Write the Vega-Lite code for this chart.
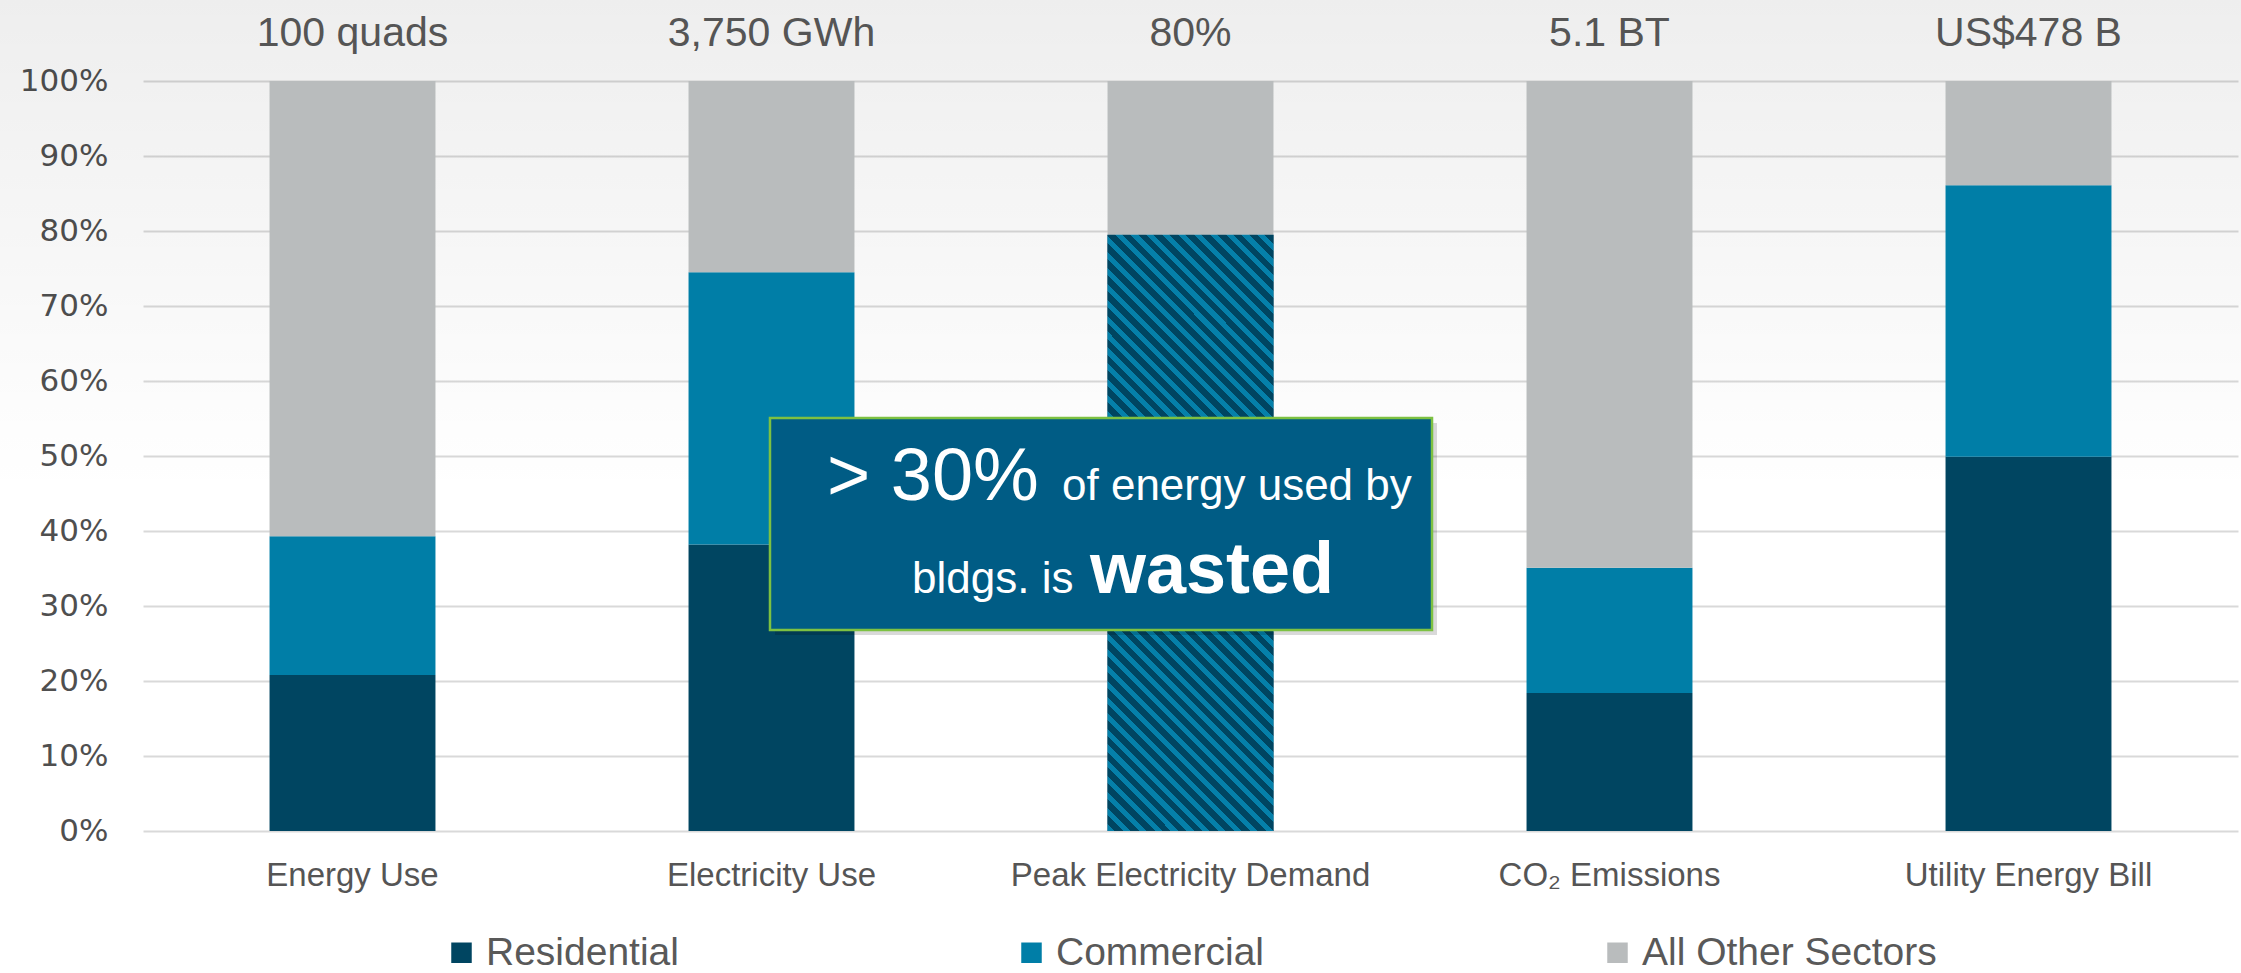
{
  "$schema": "https://vega.github.io/schema/vega-lite/v6.json",
  "width": 2095,
  "height": 831,
  "autosize": {"type": "none"},
  "padding": {"left": 143, "top": 0, "right": 3, "bottom": 142},
  "background": "#FFFFFF",
  "config": {"view": {"stroke": null}, "font": "Liberation Sans"},
  "datasets": {
    "shares": [
      {"category": "Energy Use", "sector": "Residential", "value": 20.8},
      {"category": "Energy Use", "sector": "Commercial", "value": 18.5},
      {"category": "Energy Use", "sector": "All Other Sectors", "value": 60.7},
      {"category": "Electricity Use", "sector": "Residential", "value": 38.2},
      {"category": "Electricity Use", "sector": "Commercial", "value": 36.3},
      {"category": "Electricity Use", "sector": "All Other Sectors", "value": 25.5},
      {"category": "Peak Electricity Demand", "sector": "Buildings", "value": 79.5},
      {"category": "Peak Electricity Demand", "sector": "All Other Sectors", "value": 20.5},
      {"category": "CO₂ Emissions", "sector": "Residential", "value": 18.4},
      {"category": "CO₂ Emissions", "sector": "Commercial", "value": 16.7},
      {"category": "CO₂ Emissions", "sector": "All Other Sectors", "value": 64.9},
      {"category": "Utility Energy Bill", "sector": "Residential", "value": 49.9},
      {"category": "Utility Energy Bill", "sector": "Commercial", "value": 36.2},
      {"category": "Utility Energy Bill", "sector": "All Other Sectors", "value": 13.9}
    ],
    "totals": [
      {"category": "Energy Use", "total": "100 quads"},
      {"category": "Electricity Use", "total": "3,750 GWh"},
      {"category": "Peak Electricity Demand", "total": "80%"},
      {"category": "CO₂ Emissions", "total": "5.1 BT"},
      {"category": "Utility Energy Bill", "total": "US$478 B"}
    ],
    "one": [{}]
  },
  "layer": [
    {
      "data": {"name": "one"},
      "mark": {"type": "rect", "color": {"gradient": "linear", "x1": 0, "y1": 0, "x2": 0, "y2": 1, "stops": [{"offset": 0, "color": "rgba(0,0,0,0.065)"}, {"offset": 1, "color": "rgba(0,0,0,0)"}]}},
      "encoding": {
        "x": {"datum": -0.3413, "type": "quantitative", "scale": {"domain": [0, 5], "nice": false, "zero": false}, "axis": null},
        "x2": {"datum": 5.0072},
        "y": {"datum": 110.8, "type": "quantitative", "scale": {"domain": [0, 110.8], "nice": false}, "title": null},
        "y2": {"datum": 45}
      }
    },
    {
      "layer": [
        {
          "data": {"name": "shares"},
          "mark": {"type": "bar"},
          "encoding": {
            "x": {"field": "category", "type": "nominal", "sort": null,
              "scale": {"domain": ["Energy Use", "Electricity Use", "Peak Electricity Demand", "CO₂ Emissions", "Utility Energy Bill"], "paddingInner": 0.604, "paddingOuter": 0.302},
              "axis": {"title": null, "domain": false, "ticks": false, "labelAngle": 0, "labelFontSize": 33, "labelColor": "#555555", "labelFont": "Liberation Sans", "labelPadding": 28, "labelLimit": 500}},
            "y": {"field": "value", "type": "quantitative", "stack": "zero",
              "scale": {"domain": [0, 110.8], "nice": false},
              "axis": {"title": null, "values": [0, 10, 20, 30, 40, 50, 60, 70, 80, 90, 100], "labelExpr": "datum.value + '%'", "grid": true, "gridColor": "#D9D9D9", "gridWidth": 2, "domain": false, "ticks": false, "labelFont": "DejaVu Sans", "labelFontSize": 31, "labelColor": "#4F4F4F", "labelPadding": 35}},
            "color": {"field": "sector", "type": "nominal",
              "scale": {"domain": ["Residential", "Commercial", "All Other Sectors", "Buildings"], "range": ["#004561", "#007EA7", "#B9BCBD", "#004561"]},
              "legend": {"values": ["Residential", "Commercial", "All Other Sectors"], "orient": "none", "legendX": 299, "legendY": 933, "direction": "horizontal", "columns": 3, "title": null, "symbolType": "square", "symbolSize": 420, "symbolStrokeWidth": 0, "labelFontSize": 39, "labelColor": "#595959", "labelFont": "Liberation Sans", "labelOffset": 5, "columnPadding": 333, "padding": 0, "labelLimit": 500}},
            "order": {"field": "sector", "sort": "descending"}
          }
        },
        {
          "data": {"name": "shares"},
          "transform": [{"filter": "datum.sector === 'Buildings'"}],
          "mark": {"type": "bar", "color": {"gradient": "linear", "x1": 0, "y1": 1, "x2": 0.3304, "y2": -0.1865, "stops": [
            {"offset": 0, "color": "#0580AA"}, {"offset": 0.0094, "color": "#0580AA"}, {"offset": 0.0094, "color": "#004561"}, {"offset": 0.0208, "color": "#004561"},
            {"offset": 0.0208, "color": "#0580AA"}, {"offset": 0.0302, "color": "#0580AA"}, {"offset": 0.0302, "color": "#004561"}, {"offset": 0.0417, "color": "#004561"},
            {"offset": 0.0417, "color": "#0580AA"}, {"offset": 0.0510, "color": "#0580AA"}, {"offset": 0.0510, "color": "#004561"}, {"offset": 0.0625, "color": "#004561"},
            {"offset": 0.0625, "color": "#0580AA"}, {"offset": 0.0719, "color": "#0580AA"}, {"offset": 0.0719, "color": "#004561"}, {"offset": 0.0833, "color": "#004561"},
            {"offset": 0.0833, "color": "#0580AA"}, {"offset": 0.0927, "color": "#0580AA"}, {"offset": 0.0927, "color": "#004561"}, {"offset": 0.1042, "color": "#004561"},
            {"offset": 0.1042, "color": "#0580AA"}, {"offset": 0.1135, "color": "#0580AA"}, {"offset": 0.1135, "color": "#004561"}, {"offset": 0.125, "color": "#004561"},
            {"offset": 0.125, "color": "#0580AA"}, {"offset": 0.1344, "color": "#0580AA"}, {"offset": 0.1344, "color": "#004561"}, {"offset": 0.1458, "color": "#004561"},
            {"offset": 0.1458, "color": "#0580AA"}, {"offset": 0.1552, "color": "#0580AA"}, {"offset": 0.1552, "color": "#004561"}, {"offset": 0.1667, "color": "#004561"},
            {"offset": 0.1667, "color": "#0580AA"}, {"offset": 0.1760, "color": "#0580AA"}, {"offset": 0.1760, "color": "#004561"}, {"offset": 0.1875, "color": "#004561"},
            {"offset": 0.1875, "color": "#0580AA"}, {"offset": 0.1969, "color": "#0580AA"}, {"offset": 0.1969, "color": "#004561"}, {"offset": 0.2083, "color": "#004561"},
            {"offset": 0.2083, "color": "#0580AA"}, {"offset": 0.2177, "color": "#0580AA"}, {"offset": 0.2177, "color": "#004561"}, {"offset": 0.2292, "color": "#004561"},
            {"offset": 0.2292, "color": "#0580AA"}, {"offset": 0.2385, "color": "#0580AA"}, {"offset": 0.2385, "color": "#004561"}, {"offset": 0.25, "color": "#004561"},
            {"offset": 0.25, "color": "#0580AA"}, {"offset": 0.2594, "color": "#0580AA"}, {"offset": 0.2594, "color": "#004561"}, {"offset": 0.2708, "color": "#004561"},
            {"offset": 0.2708, "color": "#0580AA"}, {"offset": 0.2802, "color": "#0580AA"}, {"offset": 0.2802, "color": "#004561"}, {"offset": 0.2917, "color": "#004561"},
            {"offset": 0.2917, "color": "#0580AA"}, {"offset": 0.3010, "color": "#0580AA"}, {"offset": 0.3010, "color": "#004561"}, {"offset": 0.3125, "color": "#004561"},
            {"offset": 0.3125, "color": "#0580AA"}, {"offset": 0.3219, "color": "#0580AA"}, {"offset": 0.3219, "color": "#004561"}, {"offset": 0.3333, "color": "#004561"},
            {"offset": 0.3333, "color": "#0580AA"}, {"offset": 0.3427, "color": "#0580AA"}, {"offset": 0.3427, "color": "#004561"}, {"offset": 0.3542, "color": "#004561"},
            {"offset": 0.3542, "color": "#0580AA"}, {"offset": 0.3635, "color": "#0580AA"}, {"offset": 0.3635, "color": "#004561"}, {"offset": 0.375, "color": "#004561"},
            {"offset": 0.375, "color": "#0580AA"}, {"offset": 0.3844, "color": "#0580AA"}, {"offset": 0.3844, "color": "#004561"}, {"offset": 0.3958, "color": "#004561"},
            {"offset": 0.3958, "color": "#0580AA"}, {"offset": 0.4052, "color": "#0580AA"}, {"offset": 0.4052, "color": "#004561"}, {"offset": 0.4167, "color": "#004561"},
            {"offset": 0.4167, "color": "#0580AA"}, {"offset": 0.4260, "color": "#0580AA"}, {"offset": 0.4260, "color": "#004561"}, {"offset": 0.4375, "color": "#004561"},
            {"offset": 0.4375, "color": "#0580AA"}, {"offset": 0.4469, "color": "#0580AA"}, {"offset": 0.4469, "color": "#004561"}, {"offset": 0.4583, "color": "#004561"},
            {"offset": 0.4583, "color": "#0580AA"}, {"offset": 0.4677, "color": "#0580AA"}, {"offset": 0.4677, "color": "#004561"}, {"offset": 0.4792, "color": "#004561"},
            {"offset": 0.4792, "color": "#0580AA"}, {"offset": 0.4885, "color": "#0580AA"}, {"offset": 0.4885, "color": "#004561"}, {"offset": 0.5, "color": "#004561"},
            {"offset": 0.5, "color": "#0580AA"}, {"offset": 0.5094, "color": "#0580AA"}, {"offset": 0.5094, "color": "#004561"}, {"offset": 0.5208, "color": "#004561"},
            {"offset": 0.5208, "color": "#0580AA"}, {"offset": 0.5302, "color": "#0580AA"}, {"offset": 0.5302, "color": "#004561"}, {"offset": 0.5417, "color": "#004561"},
            {"offset": 0.5417, "color": "#0580AA"}, {"offset": 0.5510, "color": "#0580AA"}, {"offset": 0.5510, "color": "#004561"}, {"offset": 0.5625, "color": "#004561"},
            {"offset": 0.5625, "color": "#0580AA"}, {"offset": 0.5719, "color": "#0580AA"}, {"offset": 0.5719, "color": "#004561"}, {"offset": 0.5833, "color": "#004561"},
            {"offset": 0.5833, "color": "#0580AA"}, {"offset": 0.5927, "color": "#0580AA"}, {"offset": 0.5927, "color": "#004561"}, {"offset": 0.6042, "color": "#004561"},
            {"offset": 0.6042, "color": "#0580AA"}, {"offset": 0.6135, "color": "#0580AA"}, {"offset": 0.6135, "color": "#004561"}, {"offset": 0.625, "color": "#004561"},
            {"offset": 0.625, "color": "#0580AA"}, {"offset": 0.6344, "color": "#0580AA"}, {"offset": 0.6344, "color": "#004561"}, {"offset": 0.6458, "color": "#004561"},
            {"offset": 0.6458, "color": "#0580AA"}, {"offset": 0.6552, "color": "#0580AA"}, {"offset": 0.6552, "color": "#004561"}, {"offset": 0.6667, "color": "#004561"},
            {"offset": 0.6667, "color": "#0580AA"}, {"offset": 0.6760, "color": "#0580AA"}, {"offset": 0.6760, "color": "#004561"}, {"offset": 0.6875, "color": "#004561"},
            {"offset": 0.6875, "color": "#0580AA"}, {"offset": 0.6969, "color": "#0580AA"}, {"offset": 0.6969, "color": "#004561"}, {"offset": 0.7083, "color": "#004561"},
            {"offset": 0.7083, "color": "#0580AA"}, {"offset": 0.7177, "color": "#0580AA"}, {"offset": 0.7177, "color": "#004561"}, {"offset": 0.7292, "color": "#004561"},
            {"offset": 0.7292, "color": "#0580AA"}, {"offset": 0.7385, "color": "#0580AA"}, {"offset": 0.7385, "color": "#004561"}, {"offset": 0.75, "color": "#004561"},
            {"offset": 0.75, "color": "#0580AA"}, {"offset": 0.7594, "color": "#0580AA"}, {"offset": 0.7594, "color": "#004561"}, {"offset": 0.7708, "color": "#004561"},
            {"offset": 0.7708, "color": "#0580AA"}, {"offset": 0.7802, "color": "#0580AA"}, {"offset": 0.7802, "color": "#004561"}, {"offset": 0.7917, "color": "#004561"},
            {"offset": 0.7917, "color": "#0580AA"}, {"offset": 0.8010, "color": "#0580AA"}, {"offset": 0.8010, "color": "#004561"}, {"offset": 0.8125, "color": "#004561"},
            {"offset": 0.8125, "color": "#0580AA"}, {"offset": 0.8219, "color": "#0580AA"}, {"offset": 0.8219, "color": "#004561"}, {"offset": 0.8333, "color": "#004561"},
            {"offset": 0.8333, "color": "#0580AA"}, {"offset": 0.8427, "color": "#0580AA"}, {"offset": 0.8427, "color": "#004561"}, {"offset": 0.8542, "color": "#004561"},
            {"offset": 0.8542, "color": "#0580AA"}, {"offset": 0.8635, "color": "#0580AA"}, {"offset": 0.8635, "color": "#004561"}, {"offset": 0.875, "color": "#004561"},
            {"offset": 0.875, "color": "#0580AA"}, {"offset": 0.8844, "color": "#0580AA"}, {"offset": 0.8844, "color": "#004561"}, {"offset": 0.8958, "color": "#004561"},
            {"offset": 0.8958, "color": "#0580AA"}, {"offset": 0.9052, "color": "#0580AA"}, {"offset": 0.9052, "color": "#004561"}, {"offset": 0.9167, "color": "#004561"},
            {"offset": 0.9167, "color": "#0580AA"}, {"offset": 0.9260, "color": "#0580AA"}, {"offset": 0.9260, "color": "#004561"}, {"offset": 0.9375, "color": "#004561"},
            {"offset": 0.9375, "color": "#0580AA"}, {"offset": 0.9469, "color": "#0580AA"}, {"offset": 0.9469, "color": "#004561"}, {"offset": 0.9583, "color": "#004561"},
            {"offset": 0.9583, "color": "#0580AA"}, {"offset": 0.9677, "color": "#0580AA"}, {"offset": 0.9677, "color": "#004561"}, {"offset": 0.9792, "color": "#004561"},
            {"offset": 0.9792, "color": "#0580AA"}, {"offset": 0.9885, "color": "#0580AA"}, {"offset": 0.9885, "color": "#004561"}, {"offset": 1, "color": "#004561"}
          ]}},
          "encoding": {
            "x": {"field": "category", "type": "nominal", "sort": null},
            "y": {"field": "value", "type": "quantitative", "scale": {"domain": [0, 110.8], "nice": false}}
          }
        },
        {
          "data": {"name": "totals"},
          "mark": {"type": "text", "fontSize": 41, "color": "#555555", "font": "Liberation Sans", "baseline": "alphabetic", "align": "center"},
          "encoding": {
            "x": {"field": "category", "type": "nominal", "sort": null},
            "y": {"datum": 104.67, "type": "quantitative", "scale": {"domain": [0, 110.8], "nice": false}, "title": null},
            "text": {"field": "total"}
          }
        }
      ]
    },
    {
      "data": {"name": "one"},
      "layer": [
        {
          "mark": {"type": "rect", "color": "#000000", "opacity": 0.15, "xOffset": 5, "x2Offset": 5, "yOffset": 5, "y2Offset": 5},
          "encoding": {
            "x": {"datum": 1.4964, "type": "quantitative", "scale": {"domain": [0, 5], "nice": false, "zero": false}, "axis": null},
            "x2": {"datum": 3.0764},
            "y": {"datum": 55.07, "type": "quantitative", "scale": {"domain": [0, 110.8], "nice": false}, "title": null},
            "y2": {"datum": 26.8}
          }
        },
        {
          "mark": {"type": "rect", "color": "#005C85", "stroke": "#7DC142", "strokeWidth": 2.5},
          "encoding": {
            "x": {"datum": 1.4964, "type": "quantitative", "scale": {"domain": [0, 5], "nice": false, "zero": false}, "axis": null},
            "x2": {"datum": 3.0764},
            "y": {"datum": 55.07, "type": "quantitative", "scale": {"domain": [0, 110.8], "nice": false}, "title": null},
            "y2": {"datum": 26.8}
          }
        },
        {
          "mark": {"type": "text", "text": "> 30%", "fontSize": 74, "color": "#FFFFFF", "font": "Liberation Sans", "align": "left", "baseline": "alphabetic"},
          "encoding": {
            "x": {"datum": 1.6325, "type": "quantitative", "scale": {"domain": [0, 5], "nice": false, "zero": false}, "axis": null},
            "y": {"datum": 44.13, "type": "quantitative", "scale": {"domain": [0, 110.8], "nice": false}, "title": null}
          }
        },
        {
          "mark": {"type": "text", "text": "of energy used by", "fontSize": 44, "color": "#FFFFFF", "font": "Liberation Sans", "align": "left", "baseline": "alphabetic"},
          "encoding": {
            "x": {"datum": 2.1933, "type": "quantitative", "scale": {"domain": [0, 5], "nice": false, "zero": false}, "axis": null},
            "y": {"datum": 44.13, "type": "quantitative", "scale": {"domain": [0, 110.8], "nice": false}, "title": null}
          }
        },
        {
          "mark": {"type": "text", "text": "bldgs. is", "fontSize": 44, "color": "#FFFFFF", "font": "Liberation Sans", "align": "left", "baseline": "alphabetic"},
          "encoding": {
            "x": {"datum": 1.8353, "type": "quantitative", "scale": {"domain": [0, 5], "nice": false, "zero": false}, "axis": null},
            "y": {"datum": 31.73, "type": "quantitative", "scale": {"domain": [0, 110.8], "nice": false}, "title": null}
          }
        },
        {
          "mark": {"type": "text", "text": "wasted", "fontSize": 72, "fontWeight": "bold", "color": "#FFFFFF", "font": "Liberation Sans", "align": "left", "baseline": "alphabetic"},
          "encoding": {
            "x": {"datum": 2.2601, "type": "quantitative", "scale": {"domain": [0, 5], "nice": false, "zero": false}, "axis": null},
            "y": {"datum": 31.73, "type": "quantitative", "scale": {"domain": [0, 110.8], "nice": false}, "title": null}
          }
        }
      ]
    }
  ],
  "resolve": {"scale": {"x": "independent"}, "axis": {"x": "independent"}}
}
